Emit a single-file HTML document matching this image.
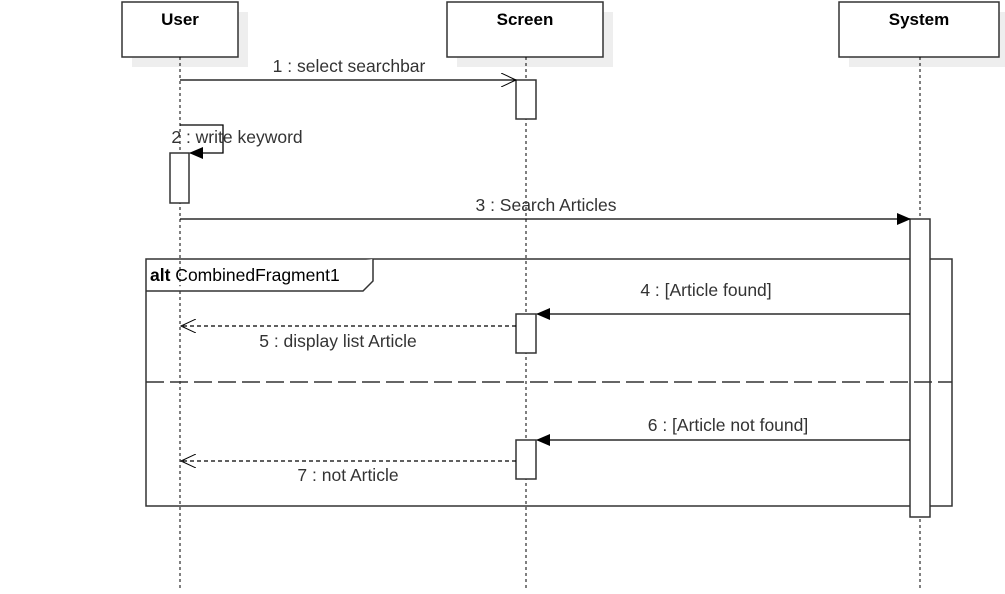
<!DOCTYPE html>
<html><head><style>body{margin:0;background:#fff}</style></head><body>
<svg width="1005" height="589" xmlns="http://www.w3.org/2000/svg" font-family="Liberation Sans, sans-serif" font-size="17.5">
<defs>
<marker id="fill" markerWidth="14" markerHeight="12" refX="13" refY="6" orient="auto" markerUnits="userSpaceOnUse"><path d="M0,0 L14,6 L0,12 z" fill="#000"/></marker>
<marker id="open" markerWidth="16" markerHeight="14" refX="15" refY="7" orient="auto" markerUnits="userSpaceOnUse"><path d="M0,0 L15,7 L0,14" fill="none" stroke="#000" stroke-width="1"/></marker>
</defs>
<g fill="#eee"><rect x="132" y="12" width="116" height="55"/><rect x="457" y="12" width="156" height="55"/><rect x="849" y="12" width="160" height="55"/></g>
<g fill="#fff" stroke="#333" stroke-width="1.5"><rect x="122" y="2" width="116" height="55"/><rect x="447" y="2" width="156" height="55"/><rect x="839" y="2" width="160" height="55"/></g>
<g font-weight="bold" font-size="17" text-anchor="middle"><text x="180" y="25">User</text><text x="525" y="25">Screen</text><text x="919" y="25">System</text></g>
<g stroke="#000" stroke-dasharray="3,3"><line x1="180" y1="57" x2="180" y2="589"/><line x1="526" y1="57" x2="526" y2="589"/><line x1="920" y1="57" x2="920" y2="589"/></g>
<rect x="146" y="259" width="806" height="247" fill="none" stroke="#333" stroke-width="1.5"/>
<path d="M146,291 L363,291 L373,281 L373,259" fill="#fff" stroke="#333" stroke-width="1.5"/>
<text x="150" y="281"><tspan font-weight="bold">alt</tspan> CombinedFragment1</text>
<g fill="#fff" stroke="#333" stroke-width="1.5">
<rect x="516" y="80" width="20" height="39"/><rect x="170" y="153" width="19" height="50"/><rect x="910" y="219" width="20" height="298"/>
<rect x="516" y="314" width="20" height="39"/><rect x="516" y="440" width="20" height="39"/></g>
<line x1="146" y1="382" x2="952" y2="382" stroke="#333" stroke-dasharray="18,6" stroke-width="1.5"/>
<g stroke="#000" stroke-width="1.3" fill="none">
<line x1="180" y1="80" x2="516" y2="80" marker-end="url(#open)"/>
<path d="M180,125 L223,125 L223,153 L190,153" marker-end="url(#fill)"/>
<line x1="180" y1="219" x2="910" y2="219" marker-end="url(#fill)"/>
<line x1="910" y1="314" x2="537" y2="314" marker-end="url(#fill)"/>
<line x1="910" y1="440" x2="537" y2="440" marker-end="url(#fill)"/>
<line x1="516" y1="326" x2="181" y2="326" stroke-dasharray="4,3" marker-end="url(#open)"/>
<line x1="516" y1="461" x2="181" y2="461" stroke-dasharray="4,3" marker-end="url(#open)"/>
</g>
<g fill="#333" text-anchor="middle">
<text x="349" y="72">1 : select searchbar</text>
<text x="237" y="143">2 : write keyword</text>
<text x="546" y="211">3 : Search Articles</text>
<text x="706" y="296">4 : [Article found]</text>
<text x="338" y="347">5 : display list Article</text>
<text x="728" y="431">6 : [Article not found]</text>
<text x="348" y="481">7 : not Article</text>
</g>
</svg>
</body></html>
